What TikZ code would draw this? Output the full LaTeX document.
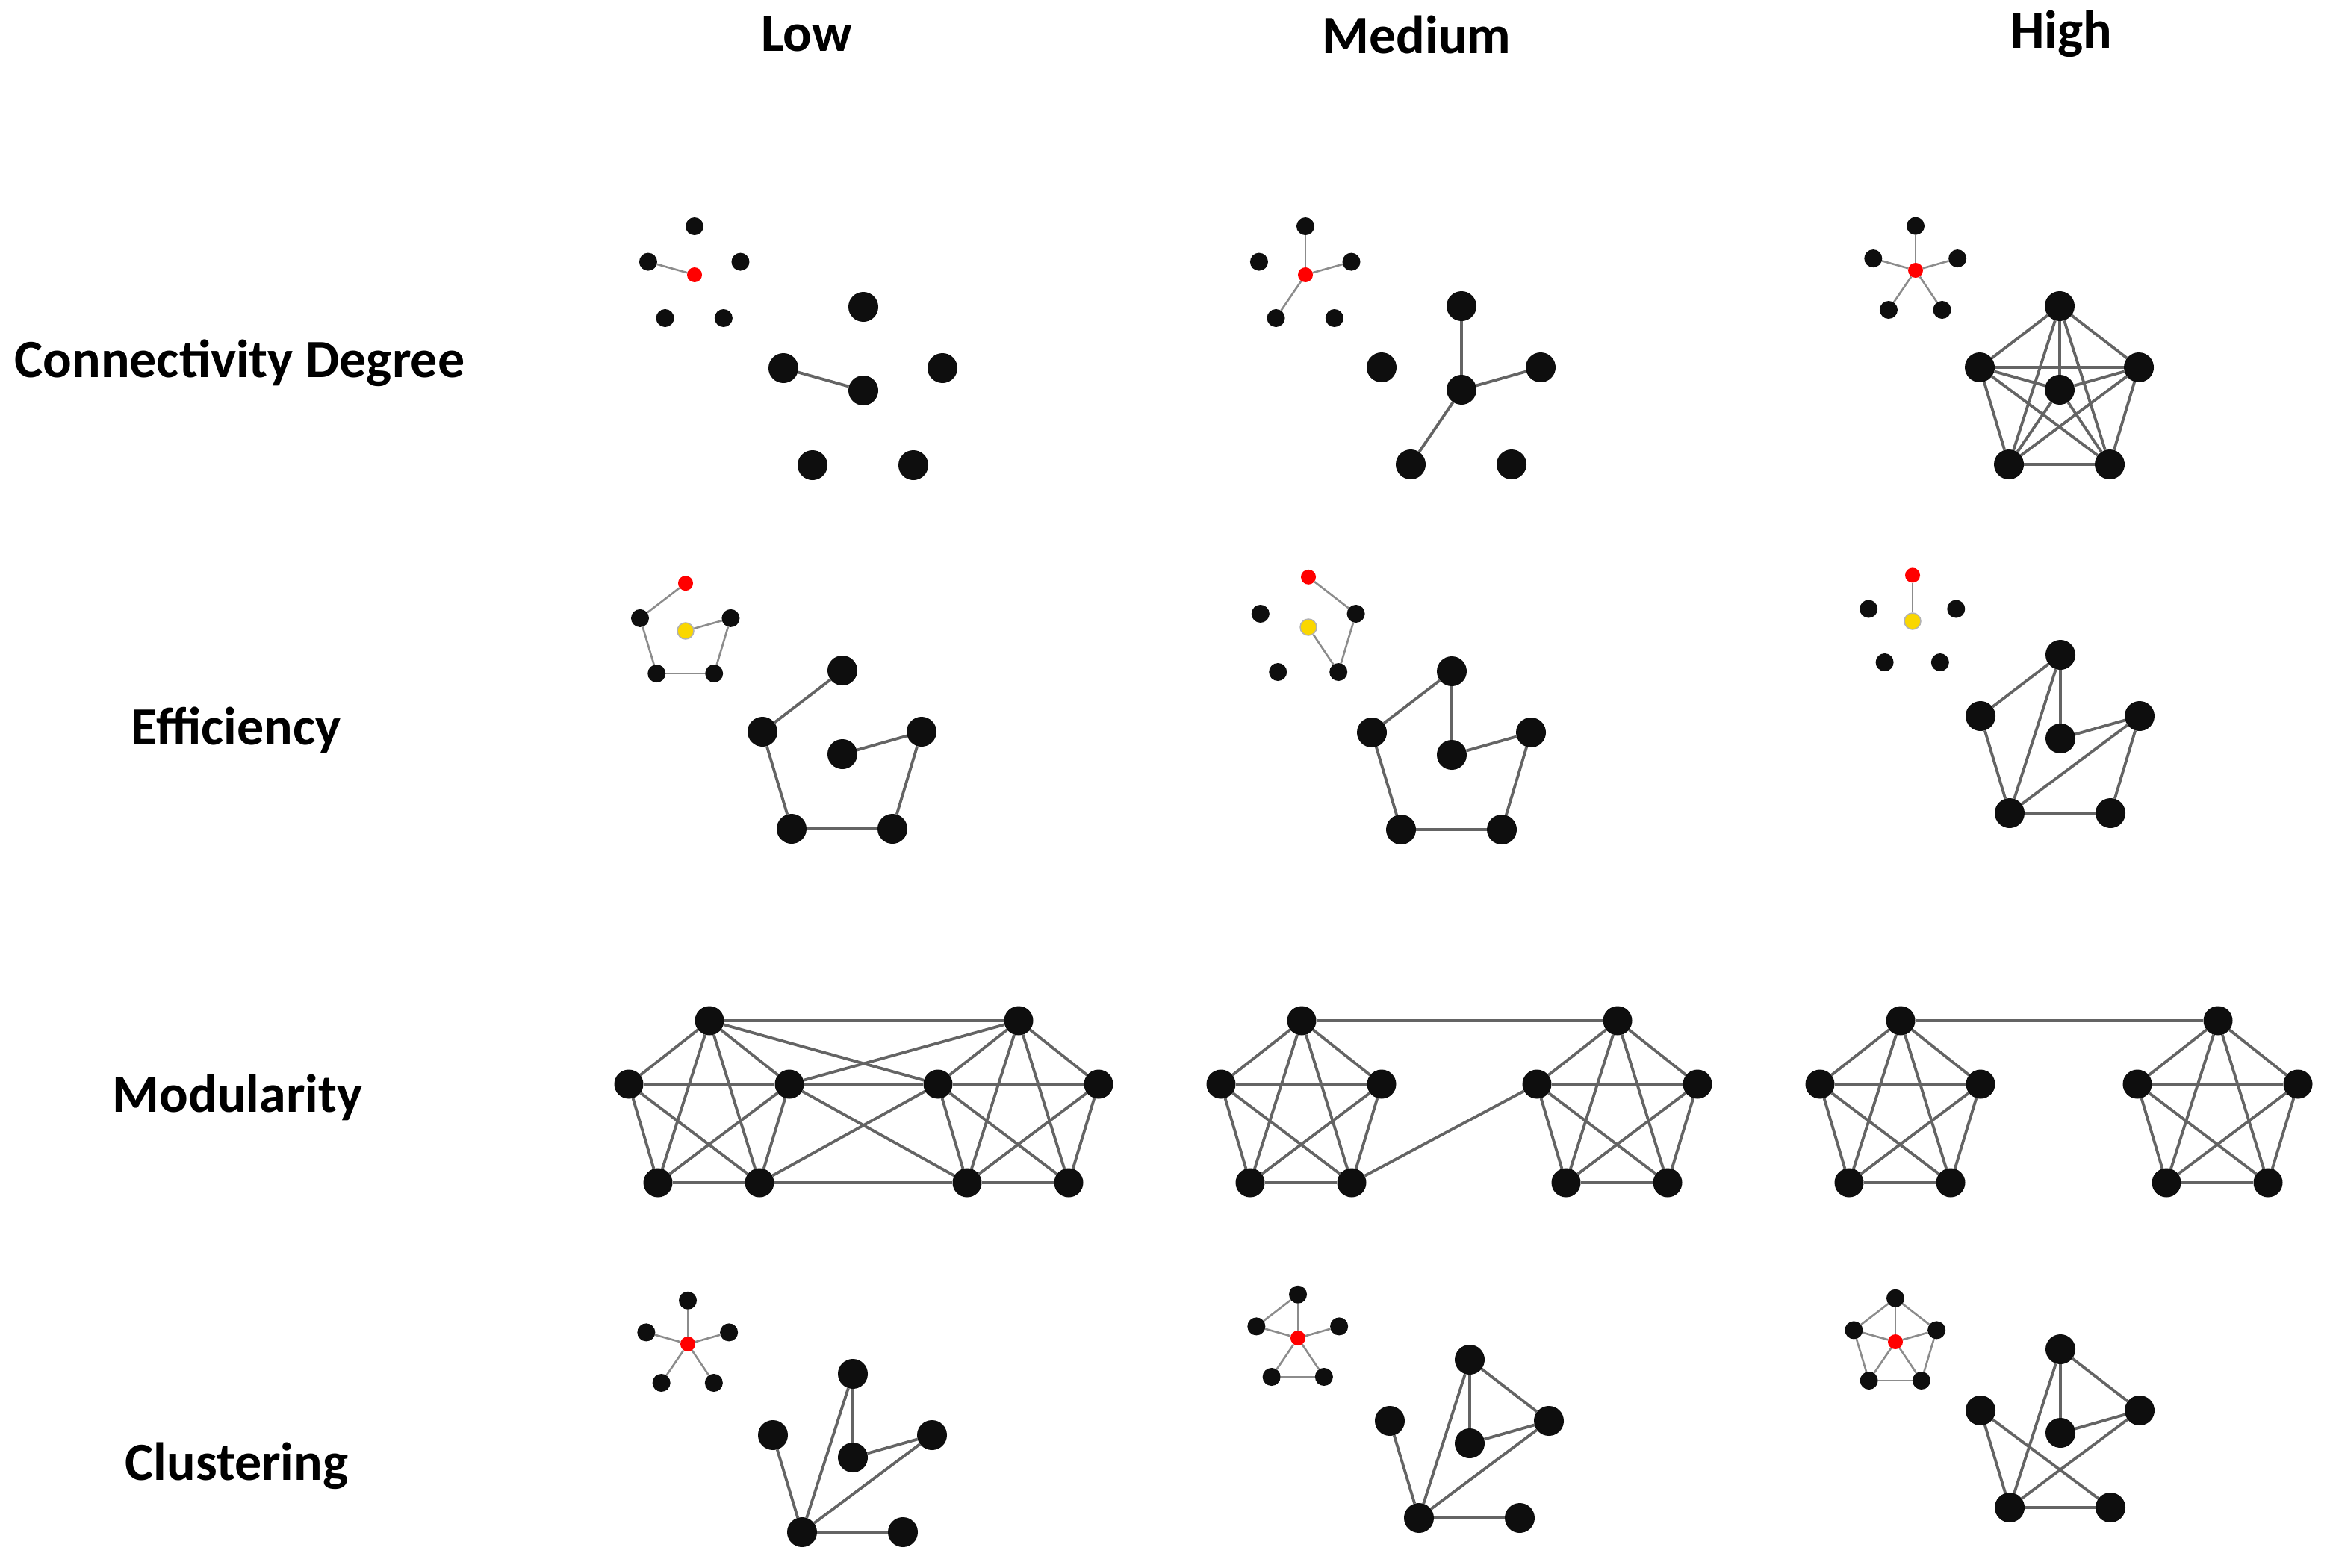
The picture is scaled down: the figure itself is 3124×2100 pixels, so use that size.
\documentclass[tikz,border=0pt]{standalone}
\usepackage{fontspec}
\setmainfont{Carlito}
\usetikzlibrary{shapes.geometric,backgrounds}
\definecolor{nodeblk}{RGB}{14,14,14}
\definecolor{nodeyel}{RGB}{250,215,0}
\definecolor{edgegray}{RGB}{100,100,100}
\definecolor{edgelight}{RGB}{140,140,140}
\tikzset{
 bn/.style={circle,fill=nodeblk,inner sep=0,minimum size=40pt},
 sn/.style={circle,fill=nodeblk,inner sep=0,minimum size=24pt},
 rn/.style={circle,fill=red,inner sep=0,minimum size=20pt},
 yn/.style={circle,fill=nodeyel,draw=gray!60,line width=1.5pt,inner sep=0,minimum size=22pt},
 mn/.style={circle,fill=nodeblk,inner sep=0,minimum size=39pt},
 ed/.style={draw=edgegray,line width=3.8pt},
 sed/.style={draw=edgelight,line width=2.6pt},
 lab/.style={font=\fontsize{72}{86}\selectfont\bfseries,anchor=base,inner sep=0}
}
% big graph: prefix, x, y
\newcommand\bigG[3]{%
 \begin{scope}[shift={(#2,#3)}]
 \node[bn] (#1C) at (0,0) {};
 \node[bn] (#1T) at (0,-112) {};
 \node[bn] (#1L) at (-107,-30) {};
 \node[bn] (#1R) at (106,-30) {};
 \node[bn] (#1A) at (-68,100) {};
 \node[bn] (#1B) at (67,100) {};
 \end{scope}}
% small graph: prefix, x, y, scale, center style, top style
\newcommand\smallG[6]{%
 \begin{scope}[shift={(#2,#3)},scale=#4]
 \node[#5] (#1C) at (0,0) {};
 \node[#6] (#1T) at (0,-112) {};
 \node[sn] (#1L) at (-107,-30) {};
 \node[sn] (#1R) at (106,-30) {};
 \node[sn] (#1A) at (-68,100) {};
 \node[sn] (#1B) at (67,100) {};
 \end{scope}}
% pentagon module: prefix, x, y of top node
\newcommand\pentG[3]{%
 \begin{scope}[shift={(#2,#3)}]
 \node[mn] (#1T) at (0,0) {};
 \node[mn] (#1L) at (-108,85) {};
 \node[mn] (#1R) at (107,85) {};
 \node[mn] (#1A) at (-69,217) {};
 \node[mn] (#1B) at (67,217) {};
 \end{scope}
 \begin{scope}[on background layer]
 \foreach \a/\b in {T/L,T/R,T/A,T/B,L/R,L/A,L/B,R/A,R/B,A/B}
   \draw[ed] (#1\a) -- (#1\b);
 \end{scope}}
\begin{document}
\begin{tikzpicture}[x=1pt,y=-1pt]
\begin{scope}[on background layer]
\fill[white] (0,0) rectangle (3124,2100);
\end{scope}
\useasboundingbox (0,0) rectangle (3124,2100);

% headers
\node[lab] (hlow) at (1080,69) {Low};
\node[lab] (hmed) at (1897,72) {Medium};
\node[lab] (hhigh) at (2760,65) {High};
\node[lab] (rconn) at (321,505) {Connectivity Degree};
\node[lab] (reff) at (316,997) {Efficiency};
\node[lab] (rmod) at (318,1489) {Modularity};
\node[lab] (rclu) at (317,1982) {Clustering};

% ---- Row 1: connectivity degree
\smallG{sa}{930}{368}{0.58}{rn}{sn}
\bigG{ba}{1156}{523}
\smallG{sb}{1748}{368}{0.58}{rn}{sn}
\bigG{bb}{1957}{522}
\smallG{sc}{2565}{362}{0.53}{rn}{sn}
\bigG{bc}{2758}{522}

% ---- Row 2: efficiency
\smallG{sd}{918}{845}{0.57}{yn}{rn}
\bigG{bd}{1128}{1010}
\smallG{se}{1752}{840}{0.6}{yn}{rn}
\bigG{be}{1944}{1011}
\smallG{sf}{2561}{832}{0.55}{yn}{rn}
\bigG{bf}{2759}{989}

% ---- Row 4: clustering
\smallG{sg}{921}{1800}{0.52}{rn}{sn}
\bigG{bg}{1142}{1952}
\smallG{sh}{1738}{1792}{0.52}{rn}{sn}
\bigG{bh}{1968}{1933}
\smallG{si}{2538}{1797}{0.52}{rn}{sn}
\bigG{bi}{2759}{1919}

% ---- Row 3: modularity
\pentG{ma}{950}{1367}
\pentG{mb}{1364}{1367}
\pentG{mc}{1743}{1367}
\pentG{md}{2166}{1367}
\pentG{me}{2545}{1367}
\pentG{mf}{2970}{1367}

\begin{scope}[on background layer]
% row 1
\draw[sed] (saL) -- (saC);
\draw[ed] (baL) -- (baC);
\foreach \a in {T,R,A} {\draw[sed] (sbC) -- (sb\a); \draw[ed] (bbC) -- (bb\a);}
\foreach \a in {T,L,R,A,B} \draw[sed] (scC) -- (sc\a);
\foreach \a/\b in {C/T,C/L,C/R,C/A,C/B,T/L,T/R,T/A,T/B,L/R,L/A,L/B,R/A,R/B,A/B}
  \draw[ed] (bc\a) -- (bc\b);
% row 2
\foreach \a/\b in {T/L,L/A,A/B,B/R,R/C} {\draw[sed] (sd\a) -- (sd\b); \draw[ed] (bd\a) -- (bd\b);}
\foreach \a/\b in {T/R,R/B,B/C} \draw[sed] (se\a) -- (se\b);
\foreach \a/\b in {T/L,T/C,C/R,L/A,A/B,B/R} \draw[ed] (be\a) -- (be\b);
\draw[sed] (sfT) -- (sfC);
\foreach \a/\b in {T/L,T/A,T/C,C/R,R/A,R/B,L/A,A/B} \draw[ed] (bf\a) -- (bf\b);
% row 3 inter-module links
\foreach \a/\b in {T/T,T/L,R/T,R/L,R/A,B/L,B/A} \draw[ed] (ma\a) -- (mb\b);
\draw[ed] (mcT) -- (mdT);
\draw[ed] (mcB) -- (mdL);
\draw[ed] (meT) -- (mfT);
% row 4
\foreach \a in {T,L,R,A,B} {\draw[sed] (sgC) -- (sg\a); \draw[sed] (shC) -- (sh\a); \draw[sed] (siC) -- (si\a);}
\foreach \a/\b in {T/L,A/B} \draw[sed] (sh\a) -- (sh\b);
\foreach \a/\b in {T/L,T/R,L/A,R/B,A/B} \draw[sed] (si\a) -- (si\b);
\foreach \a/\b in {A/L,A/T,T/C,C/R,R/A,A/B} \draw[ed] (bg\a) -- (bg\b);
\foreach \a/\b in {A/L,A/T,T/C,T/R,C/R,R/A,A/B} \draw[ed] (bh\a) -- (bh\b);
\foreach \a/\b in {T/A,T/C,T/R,C/R,R/A,L/A,L/B,A/B} \draw[ed] (bi\a) -- (bi\b);
\end{scope}
\end{tikzpicture}
\end{document}
